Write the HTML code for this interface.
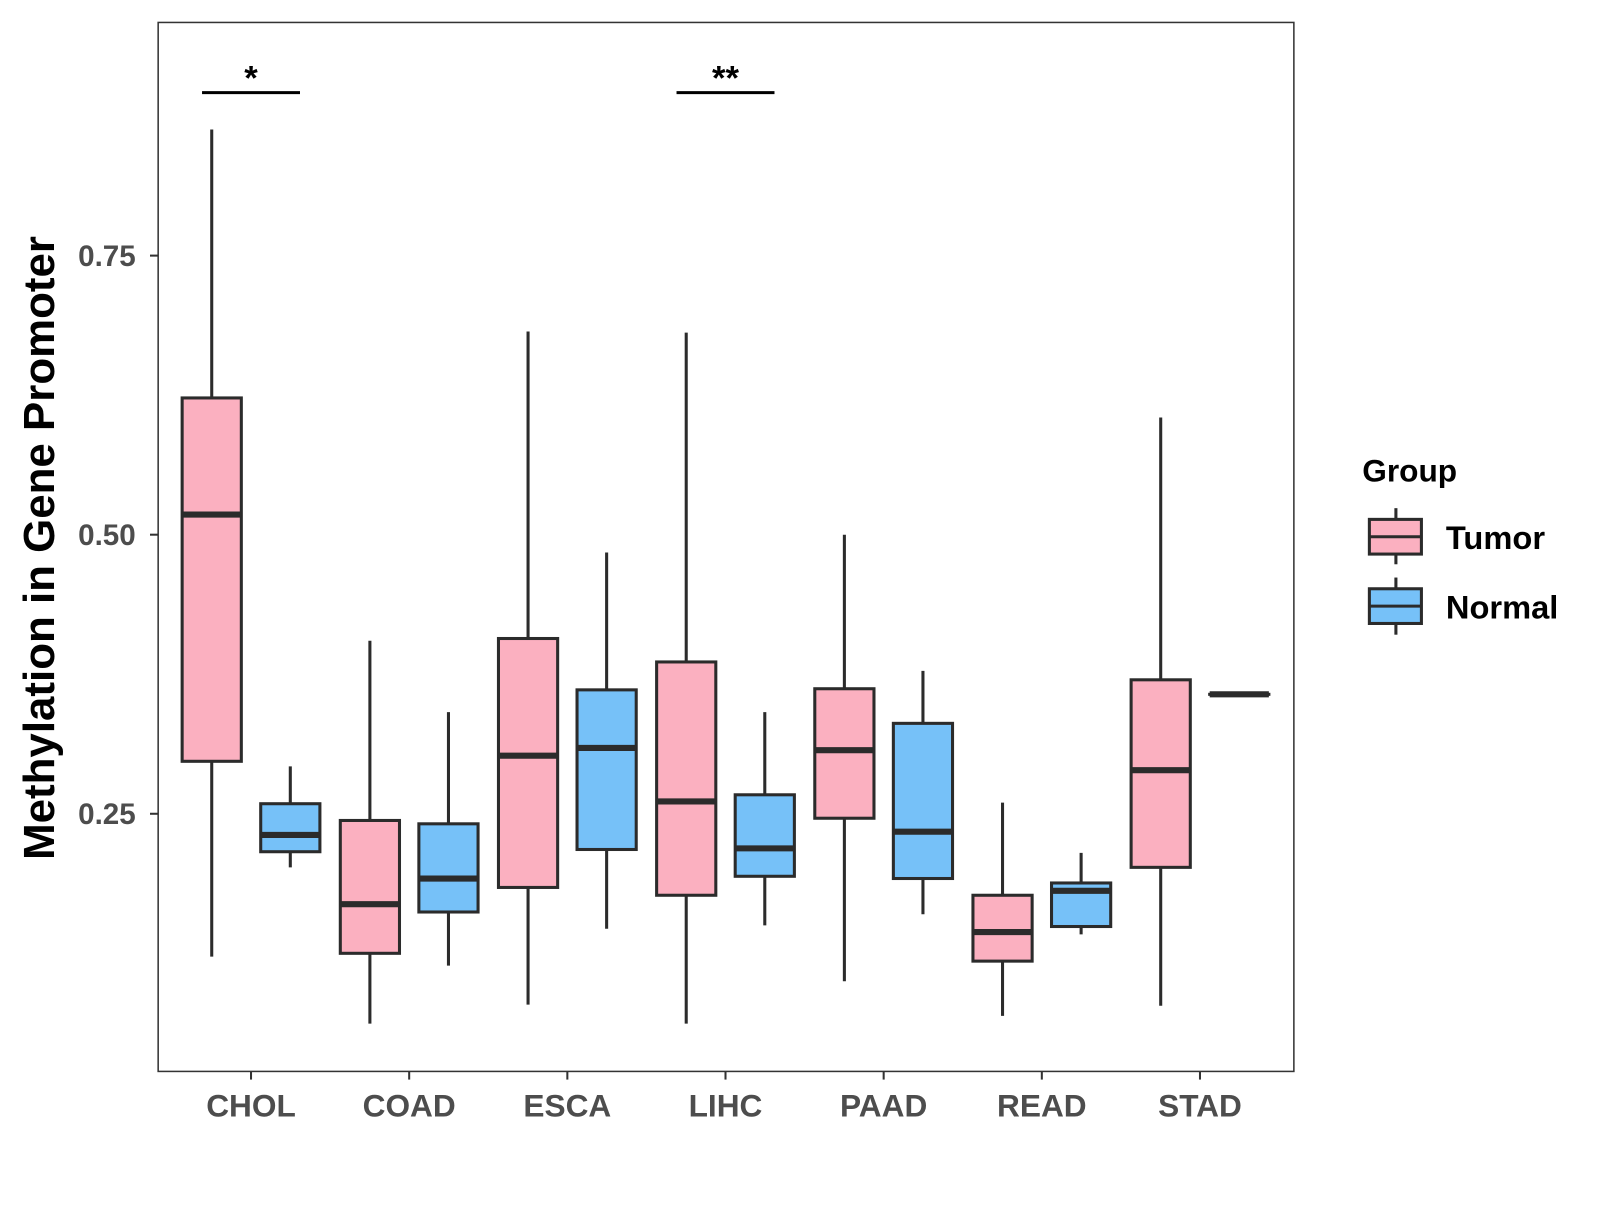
<!DOCTYPE html>
<html><head><meta charset="utf-8"><style>
body{margin:0;background:#fff;}
svg text{font-family:"Liberation Sans",sans-serif;font-weight:bold;}
</style></head><body>
<svg id="chart" width="1600" height="1200" xmlns="http://www.w3.org/2000/svg">
<rect width="1600" height="1200" fill="#fff"/>
<g transform="scale(1.0204)">
<rect x="155" y="22" width="1113" height="1028" fill="none" stroke="#333" stroke-width="1.5"/>
<g id="marks"></g>
<text x="0" y="0" transform="translate(53,537) rotate(-90)" text-anchor="middle" font-size="43" fill="#000">Methylation in Gene Promoter</text>
<text x="1335" y="472" font-size="31" fill="#000">Group</text>
<g>
<line x1="1368" y1="498" x2="1368" y2="553" stroke="#2b2b2b" stroke-width="3"/>
<rect x="1342" y="509" width="51" height="34" fill="#FBB0C0" stroke="#2b2b2b" stroke-width="3"/>
<line x1="1342" y1="526" x2="1393" y2="526" stroke="#2b2b2b" stroke-width="3"/>
<text x="1417" y="538" font-size="32" fill="#000">Tumor</text></g>
<g>
<line x1="1368" y1="566" x2="1368" y2="622" stroke="#2b2b2b" stroke-width="3"/>
<rect x="1342" y="577" width="51" height="34" fill="#76C1F8" stroke="#2b2b2b" stroke-width="3"/>
<line x1="1342" y1="594" x2="1393" y2="594" stroke="#2b2b2b" stroke-width="3"/>
<text x="1417" y="606" font-size="32" fill="#000">Normal</text></g>
</g>
</svg>
<script>
const categories=["CHOL","COAD","ESCA","LIHC","PAAD","READ","STAD"];
const tumorMin=[0.122,0.062,0.079,0.062,0.100,0.069,0.078];
const tumorQ1=[0.297,0.125,0.184,0.177,0.246,0.118,0.202];
const tumorMed=[0.518,0.169,0.302,0.261,0.307,0.144,0.289];
const tumorQ3=[0.6225,0.244,0.407,0.386,0.362,0.177,0.370];
const tumorMax=[0.863,0.405,0.682,0.681,0.500,0.260,0.605];
const normalMin=[0.202,0.114,0.147,0.150,0.160,0.142,0.357];
const normalQ1=[0.216,0.162,0.218,0.194,0.192,0.149,0.357];
const normalMed=[0.231,0.192,0.309,0.219,0.234,0.181,0.357];
const normalQ3=[0.259,0.241,0.361,0.267,0.331,0.188,0.357];
const normalMax=[0.2925,0.341,0.484,0.341,0.378,0.215,0.357];
const yTicks=[0.25,0.50,0.75];
const yTickLabels=["0.25","0.50","0.75"];
const sigCats=["CHOL","LIHC"];
const sigLabels=["*","**"];
const sigLevel=[0.896,0.896];

const NS="http://www.w3.org/2000/svg";
const g=document.getElementById('marks');
function y(v){return 524-(v-0.5)*1094;}
function x(i){return 246+i*155;}
function mk(tag,attrs,parent){const e=document.createElementNS(NS,tag);for(const k in attrs)e.setAttribute(k,attrs[k]);(parent||g).appendChild(e);return e;}
const ST="#2b2b2b";
yTicks.forEach((t,i)=>{
  const l=mk('line',{x1:147,x2:155,y1:y(t),y2:y(t),stroke:'#333','stroke-width':2});
  
  
  const tx=mk('text',{x:133,y:y(t)+10,'text-anchor':'end','font-size':29,fill:'#4d4d4d'});
  tx.textContent=yTickLabels[i];
  
  
});
categories.forEach((c,i)=>{
  const l=mk('line',{x1:x(i),x2:x(i),y1:1050,y2:1058,stroke:'#333','stroke-width':2});
  
  
  const tx=mk('text',{x:x(i),y:1094,'text-anchor':'middle','font-size':31,fill:'#4d4d4d'});
  tx.textContent=c;
  
  
});
function box(cx,mn,q1,md,q3,mx,fill,name){
  const grp=mk('g',{});
  
  
  mk('line',{x1:cx,x2:cx,y1:y(mx),y2:y(mn),stroke:ST,'stroke-width':3},grp);
  mk('rect',{x:cx-29,y:y(q3),width:58,height:Math.max(0.01,y(q1)-y(q3)),fill:fill,stroke:ST,'stroke-width':3},grp);
  mk('line',{x1:cx-29,x2:cx+29,y1:y(md),y2:y(md),stroke:ST,'stroke-width':6},grp);
}
categories.forEach((c,i)=>{
  box(x(i)-38.5,tumorMin[i],tumorQ1[i],tumorMed[i],tumorQ3[i],tumorMax[i],'#FBB0C0','box-tumor-'+c.toLowerCase());
  box(x(i)+38.5,normalMin[i],normalQ1[i],normalMed[i],normalQ3[i],normalMax[i],'#76C1F8','box-normal-'+c.toLowerCase());
});
sigCats.forEach((c,k)=>{
  const i=categories.indexOf(c);
  const l=mk('line',{x1:x(i)-48,x2:x(i)+48,y1:y(sigLevel[k]),y2:y(sigLevel[k]),stroke:'#000','stroke-width':3});
  
  
  const t=mk('text',{x:x(i),y:y(sigLevel[k])-3,'text-anchor':'middle','font-size':34,fill:'#000'});
  t.textContent=sigLabels[k];
  
  
});
</script>
</body></html>
